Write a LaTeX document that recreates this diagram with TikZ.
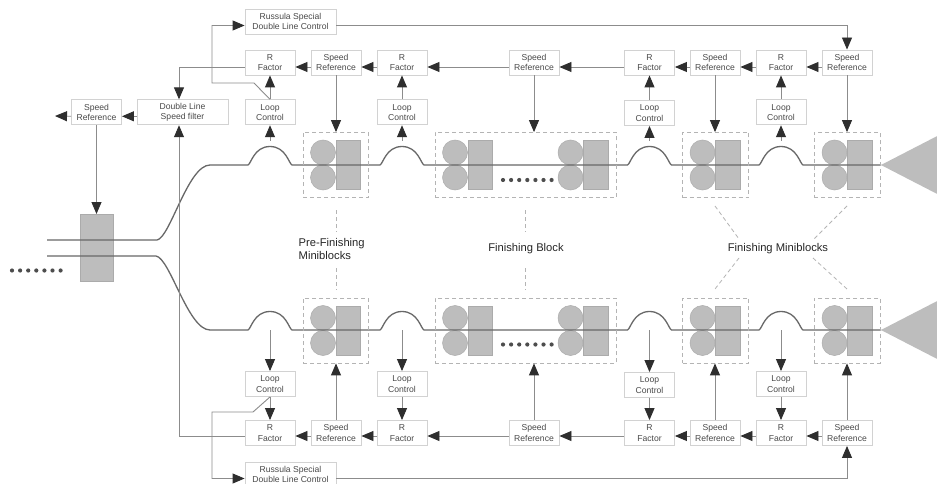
\documentclass[tikz,border=0pt]{standalone}
\usepackage{fontspec}
\setmainfont{Liberation Sans}
\usetikzlibrary{arrows.meta}
\definecolor{boxc}{HTML}{D2D2D2}
\definecolor{linec}{HTML}{8C8C8C}
\definecolor{mainc}{HTML}{686868}
\definecolor{millc}{HTML}{BDBDBD}
\definecolor{milld}{HTML}{ABABAB}
\definecolor{headc}{HTML}{2E2E2E}
\definecolor{dashc}{HTML}{B4B4B4}
\definecolor{textc}{HTML}{4A4A4A}
\tikzset{
  x=1pt,y=-1pt,
  ctl/.style={draw=boxc,line width=0.9pt,fill=white,inner sep=0pt,align=center,text=textc,
    font=\fontsize{8.6}{10.2}\selectfont,minimum height=25pt,minimum width=50pt},
  wide/.style={ctl,minimum width=91pt},
  conn/.style={draw=linec,line width=0.9pt},
  arr/.style={conn,-{Triangle[length=12pt,width=10pt,color=headc,fill=headc]}},
  millbox/.style={draw=dashc,line width=0.8pt,dash pattern=on 4pt off 3pt,inner sep=0pt,minimum height=65pt},
  lead/.style={draw=dashc,line width=0.8pt,dash pattern=on 4pt off 3pt},
  roll/.style={draw=milld,fill=millc,line width=0.5pt},
  steel/.style={draw=mainc,line width=1.3pt},
  lab/.style={font=\fontsize{11.2}{13}\selectfont,text=black!85,inner sep=0pt,align=left},
  dotc/.style={fill=headc!85,draw=none}
}
\newcommand{\standmill}[2]{%
  \draw[roll] (#1-13,#2-12.5) circle[radius=12.5pt];
  \draw[roll] (#1-13,#2+12.5) circle[radius=12.5pt];
  \draw[roll] (#1,#2-24.5) rectangle (#1+24.5,#2+24.5);
}
\newcommand{\hump}[2]{-- (#1,#2) .. controls (#1+3,#2-1) and (#1+6,#2-18.5) .. (#1+22,#2-18.5) .. controls (#1+38,#2-18.5) and (#1+41,#2-1) .. (#1+44,#2)}
\newcommand{\sevendots}[2]{\foreach \k in {0,...,6}{\fill[dotc] (#1+\k*8.1,#2) circle[radius=2.1pt];}}
\begin{document}
\begin{tikzpicture}
\clip (0,0) rectangle (937,484);
\fill[white] (0,0) rectangle (937,484);

% mills
\standmill{336}{165}\standmill{468}{165}\standmill{583.5}{165}\standmill{715.5}{165}\standmill{847.5}{165}
\standmill{336}{330.5}\standmill{468}{330.5}\standmill{583.5}{330.5}\standmill{715.5}{330.5}\standmill{847.5}{330.5}
\fill[millc,draw=milld,line width=0.5pt] (80,214) rectangle (113,281);
\fill[millc] (881,165) -- (945,132) -- (945,198) -- cycle;
\fill[millc] (881,330) -- (945,297) -- (945,363) -- cycle;

% steel lines
\draw[steel] (47,240) -- (157,240) .. controls (170,238) and (188,165) .. (210,165)
  \hump{248}{165} \hump{380}{165} \hump{627.5}{165} \hump{759}{165} -- (881,165);
\draw[steel] (47,256) -- (156,256) .. controls (170,258) and (188,330) .. (210,330)
  \hump{248}{330} \hump{380}{330} \hump{627.5}{330} \hump{759}{330} -- (881,330);

% hump taps
\coordinate (th1) at (270,141); \coordinate (th2) at (402,141);
\coordinate (th3) at (649.5,141); \coordinate (th4) at (781,141);
\coordinate (bh1) at (270,330); \coordinate (bh2) at (402,330);
\coordinate (bh3) at (649.5,330); \coordinate (bh4) at (781,330);

% dashed mill outlines
\node[millbox,minimum width=65pt] (tm1) at (335.5,165) {};
\node[millbox,minimum width=181pt] (tm2) at (525.5,165) {};
\node[millbox,minimum width=66pt] (tm3) at (715.5,165) {};
\node[millbox,minimum width=66pt] (tm4) at (847,165) {};
\node[millbox,minimum width=65pt] (bm1) at (335.5,330.5) {};
\node[millbox,minimum width=181pt] (bm2) at (525.5,330.5) {};
\node[millbox,minimum width=66pt] (bm3) at (715.5,330.5) {};
\node[millbox,minimum width=66pt] (bm4) at (847,330.5) {};

\sevendots{503}{180}\sevendots{503}{344.5}\sevendots{12}{270.5}

% top boxes
\node[wide] (tc) at (290.5,21.5) {Russula Special\\Double Line Control};
\node[ctl] (tr1) at (270,62.5) {R\\Factor};
\node[ctl] (ts1) at (336,62.5) {Speed\\Reference};
\node[ctl] (tr2) at (402,62.5) {R\\Factor};
\node[ctl] (ts2) at (534,62.5) {Speed\\Reference};
\node[ctl] (tr3) at (649.5,62.5) {R\\Factor};
\node[ctl] (ts3) at (715,62.5) {Speed\\Reference};
\node[ctl] (tr4) at (781,62.5) {R\\Factor};
\node[ctl] (ts4) at (847,62.5) {Speed\\Reference};
\node[ctl] (tl1) at (270,112.3) {Loop\\Control};
\node[ctl] (tl2) at (402,112.3) {Loop\\Control};
\node[ctl] (tl3) at (649.5,113) {Loop\\Control};
\node[ctl] (tl4) at (781,112.3) {Loop\\Control};
\node[wide] (f) at (182.5,112.3) {Double Line\\Speed filter};
\node[ctl] (s0) at (96.5,112.3) {Speed\\Reference};
\coordinate (out) at (55,116);
\coordinate (gate) at (96.5,214);

% bottom boxes
\node[wide] (bc) at (290.5,474.5) {Russula Special\\Double Line Control};
\node[ctl] (br1) at (270,433) {R\\Factor};
\node[ctl] (bs1) at (336,433) {Speed\\Reference};
\node[ctl] (br2) at (402,433) {R\\Factor};
\node[ctl] (bs2) at (534,433) {Speed\\Reference};
\node[ctl] (br3) at (649.5,433) {R\\Factor};
\node[ctl] (bs3) at (715,433) {Speed\\Reference};
\node[ctl] (br4) at (781,433) {R\\Factor};
\node[ctl] (bs4) at (847,433) {Speed\\Reference};
\node[ctl] (bl1) at (270,384) {Loop\\Control};
\node[ctl] (bl2) at (402,384) {Loop\\Control};
\node[ctl] (bl3) at (649.5,385) {Loop\\Control};
\node[ctl] (bl4) at (781,384) {Loop\\Control};

% top connectors
\foreach \a/\b in {ts1/tr1,tr2/ts1,ts2/tr2,tr3/ts2,ts3/tr3,tr4/ts3,ts4/tr4}
  \draw[arr] ([yshift=-4.5pt]\a.west) -- ([yshift=-4.5pt]\b.east);
\foreach \a/\b in {tl1/tr1,tl2/tr2,tl3/tr3,tl4/tr4}
  \draw[arr] (\a.north) -- (\b.south);
\foreach \a/\b in {th1/tl1,th2/tl2,th3/tl3,th4/tl4}
  \draw[arr] (\a) -- (\b.south);
\draw[arr] (ts1.south) -- (ts1.south |- tm1.north);
\draw[arr] (ts2.south) -- (ts2.south |- tm2.north);
\draw[arr] (ts3.south) -- (ts3.south |- tm3.north);
\draw[arr] (ts4.south) -- (ts4.south |- tm4.north);
\draw[arr] ([yshift=-4pt]tc.east) -| (ts4.north);
\coordinate (ta) at (254,83); \coordinate (tb) at (212,83);
\draw[arr] (tl1.north) -- (ta) -- (tb) |- ([yshift=-4pt]tc.west);
\draw[arr] ([yshift=-4.5pt]tr1.west) -| ([xshift=-3.5pt]f.north);
\draw[arr] ([yshift=-4pt]f.west) -- ([yshift=-4pt]s0.east);
\draw[arr] ([yshift=-4pt]s0.west) -- (out);
\draw[arr] (s0.south) -- (gate);

% bottom connectors
\foreach \a/\b in {bs1/br1,br2/bs1,bs2/br2,br3/bs2,bs3/br3,br4/bs3,bs4/br4}
  \draw[arr] ([yshift=-3pt]\a.west) -- ([yshift=-3pt]\b.east);
\foreach \a/\b in {bl1/br1,bl2/br2,bl3/br3,bl4/br4}
  \draw[arr] (\a.south) -- (\b.north);
\foreach \a/\b in {bh1/bl1,bh2/bl2,bh3/bl3,bh4/bl4}
  \draw[arr] (\a) -- (\b.north);
\draw[arr] (bs1.north) -- (bs1.north |- bm1.south);
\draw[arr] (bs2.north) -- (bs2.north |- bm2.south);
\draw[arr] (bs3.north) -- (bs3.north |- bm3.south);
\draw[arr] (bs4.north) -- (bs4.north |- bm4.south);
\draw[arr] ([yshift=-4pt]bc.east) -| (bs4.south);
\coordinate (ba) at (253,412); \coordinate (bb) at (212,412);
\draw[arr] (bl1.south) -- (ba) -- (bb) |- ([yshift=-4pt]bc.west);
\draw[arr] ([yshift=-3pt]br1.west) -| ([xshift=-3.5pt]f.south);

% labels
\node[lab,anchor=west] (l1) at (298.5,248.5) {Pre-Finishing\\Miniblocks};
\node[lab] (l2) at (526,249) {Finishing Block};
\node[lab] (l3) at (778,249) {Finishing Miniblocks};
\coordinate (a1) at (336,210); \coordinate (a2) at (336,232);
\coordinate (a3) at (336,268); \coordinate (a4) at (336,290);
\coordinate (a5) at (525,210); \coordinate (a6) at (525,232);
\coordinate (a7) at (525,268); \coordinate (a8) at (525,290);
\draw[lead] (a1) -- (a2); \draw[lead] (a3) -- (a4);
\draw[lead] (a5) -- (a6); \draw[lead] (a7) -- (a8);
\draw[lead] (715,206) -- (739,239);
\draw[lead] (847,206) -- (813,240);
\draw[lead] (739,258) -- (715,289);
\draw[lead] (813,258) -- (847,289);
\end{tikzpicture}
\end{document}
